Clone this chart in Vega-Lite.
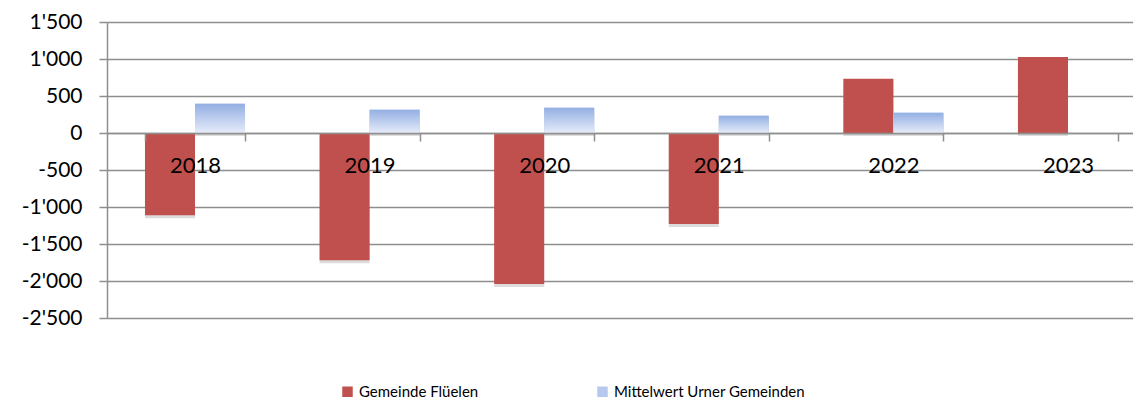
{
  "$schema": "https://vega.github.io/schema/vega-lite/v6.json",
  "width": 1026,
  "height": 296,
  "autosize": {"type": "none"},
  "padding": {"left": 107, "top": 22, "right": 0, "bottom": 83},
  "background": "white",
  "data": {
    "values": [
      {"year": "2018", "series": "Gemeinde Flüelen", "value": -1113},
      {"year": "2018", "series": "Mittelwert Urner Gemeinden", "value": 395},
      {"year": "2019", "series": "Gemeinde Flüelen", "value": -1721},
      {"year": "2019", "series": "Mittelwert Urner Gemeinden", "value": 315},
      {"year": "2020", "series": "Gemeinde Flüelen", "value": -2041},
      {"year": "2020", "series": "Mittelwert Urner Gemeinden", "value": 342},
      {"year": "2021", "series": "Gemeinde Flüelen", "value": -1230},
      {"year": "2021", "series": "Mittelwert Urner Gemeinden", "value": 234},
      {"year": "2022", "series": "Gemeinde Flüelen", "value": 734},
      {"year": "2022", "series": "Mittelwert Urner Gemeinden", "value": 274},
      {"year": "2023", "series": "Gemeinde Flüelen", "value": 1027}
    ]
  },
  "encoding": {
    "x": {
      "field": "year",
      "type": "nominal",
      "scale": {"paddingInner": 0.427, "paddingOuter": 0.1517, "align": 0.717},
      "axis": {
        "title": null,
        "orient": "bottom",
        "offset": -185,
        "labelAngle": 0,
        "labelFont": "Lato",
        "labelFontSize": 22,
        "labelColor": "#000000",
        "labelPadding": 14,
        "tickBand": "extent",
        "tickSize": 8,
        "tickColor": "#8e8e8e",
        "tickWidth": 1.5,
        "domainColor": "#8e8e8e",
        "domainWidth": 1.5,
        "grid": false,
        "zindex": 1
      }
    },
    "xOffset": {
      "field": "series",
      "scale": {"domain": ["Gemeinde Flüelen", "Mittelwert Urner Gemeinden"], "paddingInner": 0, "paddingOuter": 0}
    },
    "y": {
      "field": "value",
      "type": "quantitative",
      "scale": {"domain": [-2500, 1500], "nice": false},
      "axis": {
        "title": null,
        "values": [-2500, -2000, -1500, -1000, -500, 0, 500, 1000, 1500],
        "labelExpr": "replace(replace(format(datum.value, ','), ',', \"'\"), '−', '-')",
        "labelFont": "Lato",
        "labelFontSize": 21,
        "labelColor": "#000000",
        "labelPadding": 17,
        "tickSize": 8,
        "tickColor": "#8e8e8e",
        "tickWidth": 1.5,
        "domainColor": "#8e8e8e",
        "domainWidth": 1.5,
        "grid": true,
        "gridColor": "#8e8e8e",
        "gridWidth": 1.5
      }
    }
  },
  "layer": [
    {
      "mark": {"type": "bar", "fill": "#606060", "opacity": 0.22, "xOffset": 3, "yOffset": 3}
    },
    {
      "mark": {"type": "bar"},
      "encoding": {
        "color": {
          "field": "series",
          "type": "nominal",
          "scale": {"domain": ["Gemeinde Flüelen", "Mittelwert Urner Gemeinden"], "range": ["#c0504d", "#b7c8ee"]},
          "legend": {
            "title": null,
            "orient": "none",
            "direction": "horizontal",
            "legendX": 233,
            "legendY": 362,
            "symbolType": "square",
            "symbolSize": 110,
            "symbolStrokeWidth": 0,
            "labelFont": "Lato",
            "labelFontSize": 15,
            "labelLimit": 400,
            "labelColor": "#000000",
            "columnPadding": 116,
            "labelOffset": 4
          }
        }
      }
    },
    {
      "transform": [{"filter": "datum.series === 'Mittelwert Urner Gemeinden'"}],
      "mark": {
        "type": "bar",
        "fill": {
          "gradient": "linear",
          "x1": 0, "y1": 0, "x2": 0, "y2": 1,
          "stops": [
            {"offset": 0, "color": "#93afe3"},
            {"offset": 1, "color": "#e6ecf9"}
          ]
        }
      }
    }
  ],
  "config": {
    "view": {"stroke": null}
  }
}
